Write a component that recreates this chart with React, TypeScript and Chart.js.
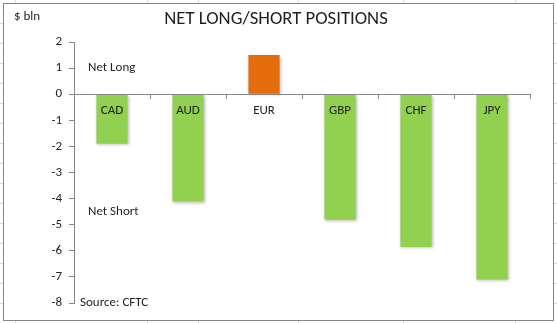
import React, { useEffect, useRef } from 'react';
import { Chart, registerables } from 'chart.js';

Chart.register(...registerables);

const categories = ['CAD', 'AUD', 'EUR', 'GBP', 'CHF', 'JPY'];
const netPositions = [-1.9, -4.1, 1.5, -4.8, -5.85, -7.1];
const yMin = -8;
const yMax = 2;
const chartTitle = 'NET LONG/SHORT POSITIONS';
const unitLabel = '$ bln';
const noteTexts = ['Net Long', 'Net Short', 'Source: CFTC'];
const noteValues = [1, -4.5, -8];

const FONT = 'Carlito, Lato, "Open Sans", sans-serif';
const GREEN = '#92D050';
const ORANGE = '#E46C0A';
const AXIS = '#868686';
const TEXT = '#1f1f1f';

const sheetPlugin = {
  id: 'sheet',
  beforeDraw(chart: any) {
    const ctx = chart.ctx;
    const w = chart.width;
    const h = chart.height;
    ctx.save();
    ctx.fillStyle = '#ffffff';
    ctx.fillRect(0, 0, w, h);
    ctx.strokeStyle = '#d9d9d9';
    ctx.lineWidth = 1;
    const cols = [15, 147, 198, 298, 403, 515];
    cols.forEach((x) => {
      ctx.beginPath();
      ctx.moveTo(x + 0.5, 0);
      ctx.lineTo(x + 0.5, 3);
      ctx.moveTo(x + 0.5, 321);
      ctx.lineTo(x + 0.5, h);
      ctx.stroke();
    });
    for (let y = 23; y < h; y += 20) {
      ctx.beginPath();
      ctx.moveTo(0, y + 0.5);
      ctx.lineTo(3, y + 0.5);
      ctx.moveTo(554, y + 0.5);
      ctx.lineTo(w, y + 0.5);
      ctx.stroke();
    }
    ctx.strokeStyle = AXIS;
    ctx.strokeRect(3.5, 3.5, 550, 317);
    ctx.restore();
  },
};

const shadowPlugin = {
  id: 'barShadow',
  beforeDatasetsDraw(chart: any) {
    const ctx = chart.ctx;
    ctx.save();
    ctx.shadowColor = 'rgba(0,0,0,0.28)';
    ctx.shadowBlur = 3;
    ctx.shadowOffsetX = 1;
    ctx.shadowOffsetY = 1.5;
  },
  afterDatasetsDraw(chart: any) {
    chart.ctx.restore();
  },
};

const textPlugin = {
  id: 'texts',
  afterDraw(chart: any) {
    const ctx = chart.ctx;
    const ys = chart.scales.y;
    const area = chart.chartArea;
    ctx.save();
    ctx.fillStyle = TEXT;
    ctx.textBaseline = 'middle';
    ctx.textAlign = 'center';
    ctx.font = `18.7px ${FONT}`;
    ctx.fillText(chartTitle, 276, 19);
    ctx.textAlign = 'left';
    ctx.font = `13px ${FONT}`;
    ctx.fillText(unitLabel, 14, 17);
    noteTexts.forEach((t, i) => {
      const isSource = i === noteTexts.length - 1;
      ctx.fillText(t, area.left + (isSource ? 6 : 14), ys.getPixelForValue(noteValues[i]));
    });
    ctx.restore();
  },
};

export default function App() {
  const ref = useRef<HTMLCanvasElement | null>(null);
  useEffect(() => {
    document.body.style.margin = '0';
    if (!ref.current) return;
    const chart = new Chart(ref.current, {
      type: 'bar',
      data: {
        labels: categories,
        datasets: [
          {
            data: netPositions,
            backgroundColor: netPositions.map((v) => (v >= 0 ? ORANGE : GREEN)),
            borderWidth: 0,
            barPercentage: 0.41,
            categoryPercentage: 1,
          },
        ],
      },
      options: {
        animation: false,
        responsive: false,
        devicePixelRatio: 1,
        layout: { padding: { top: 42, bottom: 20, left: 0, right: 27 } },
        plugins: {
          legend: { display: false },
          title: { display: false },
          tooltip: { enabled: false },
        },
        scales: {
          x: {
            position: { y: 0 } as any,
            afterFit: (s: any) => {
              s.height = 0;
            },
            grid: {
              display: true,
              drawOnChartArea: false,
              drawTicks: true,
              tickLength: 4,
              color: AXIS,
              offset: true,
            },
            border: { display: true, color: AXIS, width: 1, z: 1 },
            ticks: {
              z: 1,
              color: TEXT,
              font: { family: FONT, size: 13 },
              padding: 5,
              maxRotation: 0,
            },
          },
          y: {
            min: yMin,
            max: yMax,
            afterFit: (s: any) => {
              s.width = 74;
            },
            grid: {
              display: true,
              drawOnChartArea: false,
              drawTicks: true,
              tickLength: 5,
              color: AXIS,
            },
            border: { display: true, color: AXIS, width: 1 },
            ticks: {
              stepSize: 1,
              color: TEXT,
              font: { family: FONT, size: 13 },
              padding: 7,
            },
          },
        },
      },
      plugins: [sheetPlugin, shadowPlugin, textPlugin],
    });
    return () => chart.destroy();
  }, []);
  return (
    <div style={{ position: 'absolute', left: 0, top: 0, width: 557, height: 323 }}>
      <canvas ref={ref} width={557} height={323} />
    </div>
  );
}
